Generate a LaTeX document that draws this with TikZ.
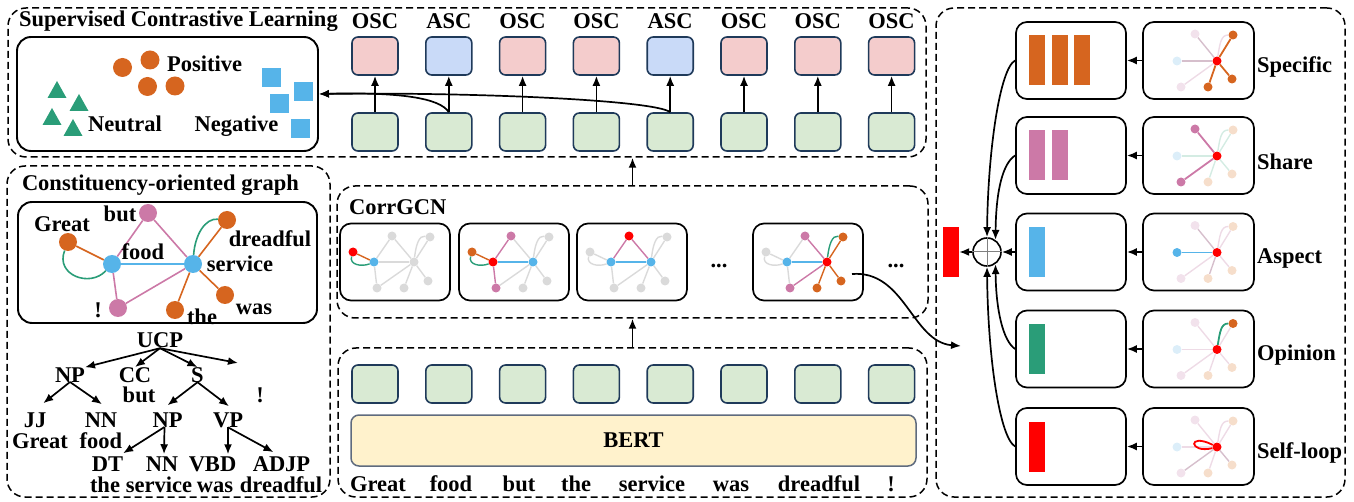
\documentclass[tikz,border=0pt]{standalone}
\usepackage{fontspec}
\setmainfont{Liberation Serif}
\usetikzlibrary{arrows.meta}
\definecolor{cOr}{HTML}{D6651F}
\definecolor{cPk}{HTML}{CC79A7}
\definecolor{cBl}{HTML}{56B4E9}
\definecolor{cGn}{HTML}{2A9D78}
\definecolor{cRd}{HTML}{FF0000}
\definecolor{cGy}{HTML}{DADADA}
\definecolor{fPk}{HTML}{F4CCCC}
\definecolor{fBl}{HTML}{C9DAF8}
\definecolor{fGn}{HTML}{D9EAD3}
\definecolor{fYl}{HTML}{FFF2CC}
\definecolor{bNv}{HTML}{1F3A5A}
\definecolor{bGy}{HTML}{5F6B7E}
\definecolor{pBl}{HTML}{DCEEF9}
\definecolor{pPk}{HTML}{F2E2EC}
\definecolor{pOr}{HTML}{F6DECB}
\definecolor{pEd}{HTML}{EEDBE6}
\definecolor{pMv}{HTML}{D6BFCC}
\definecolor{pGe}{HTML}{D4ECE3}
\tikzset{
 dbox/.style={draw, line width=1.5pt, dash pattern=on 7pt off 4pt, rounded corners=18pt, inner sep=0},
 sbox/.style={draw, line width=1.9pt, rounded corners=14pt, inner sep=0},
 gbox/.style={draw, line width=1.7pt, rounded corners=11pt, inner sep=0, minimum width=110pt, minimum height=77pt},
 cell/.style={draw=bNv, line width=1.6pt, rounded corners=6pt, minimum width=46pt, minimum height=38pt, inner sep=0},
 arr/.style={-{Latex[length=10pt,width=8pt]}, line width=1.7pt},
 txt/.style={inner sep=0, outer sep=0},
 bn/.style={circle, inner sep=0, minimum size=18pt},
 be/.style={line width=1.6pt},
 gn/.style={circle, inner sep=0, minimum size=9pt, fill=cGy},
 ge/.style={line width=1.4pt, draw=cGy},
 sn/.style={circle, inner sep=0, minimum size=9pt},
 se/.style={line width=1.4pt, draw=pEd},
 bar/.style={inner sep=0, minimum width=16pt, minimum height=50pt},
 nG/.style={}, nF/.style={}, nB/.style={}, nD/.style={}, nS/.style={}, nX/.style={}, nT/.style={}, nW/.style={},
 eGF/.style={}, eGFc/.style={}, eFB/.style={}, eBS/.style={}, eFS/.style={}, eFX/.style={}, eXS/.style={}, eSD/.style={}, eSDc/.style={}, eST/.style={}, eSW/.style={},
 sC/.style={fill=cRd}, sF/.style={fill=pBl}, sB/.style={fill=pPk}, sD/.style={fill=pOr}, sX/.style={fill=pPk}, sT/.style={fill=pOr}, sW/.style={fill=pOr},
 fF/.style={}, fB/.style={}, fD/.style={}, fDc/.style={}, fX/.style={}, fT/.style={}, fW/.style={},
}
\newcommand\corrgraph[1]{%
 \node[gn,nG] (#1G) at (13,29) {};
 \node[gn,nF] (#1F) at (34,39) {};
 \node[gn,nB] (#1B) at (52,13) {};
 \node[gn,nD] (#1D) at (90,14) {};
 \node[gn,nS] (#1S) at (74,39) {};
 \node[gn,nX] (#1X) at (37,65) {};
 \node[gn,nT] (#1T) at (64,65) {};
 \node[gn,nW] (#1W) at (88,58) {};
 \draw[ge,eGF] (#1G) -- (#1F);
 \draw[ge,eGFc] (#1G) .. controls +(-4,13) and +(-12,5) .. (#1F);
 \draw[ge,eFB] (#1F) -- (#1B);
 \draw[ge,eBS] (#1B) -- (#1S);
 \draw[ge,eFX] (#1F) -- (#1X);
 \draw[ge,eXS] (#1X) -- (#1S);
 \draw[ge,eSD] (#1S) -- (#1D);
 \draw[ge,eSDc] (#1S) .. controls +(2,-17) and +(-11,-2) .. (#1D);
 \draw[ge,eST] (#1S) -- (#1T);
 \draw[ge,eSW] (#1S) -- (#1W);
 \draw[ge,eFS] (#1F) -- (#1S);
}
\newcommand\stargraph[1]{%
 \node[sn,sC] (#1C) at (74,39) {};
 \node[sn,sF] (#1F) at (34,39) {};
 \node[sn,sB] (#1B) at (52,12) {};
 \node[sn,sD] (#1D) at (90,13) {};
 \node[sn,sX] (#1X) at (38,65) {};
 \node[sn,sT] (#1T) at (65,65) {};
 \node[sn,sW] (#1W) at (89,57) {};
 \draw[se,fDc] (#1C) .. controls +(3,-18) and +(-12,0) .. (#1D);
 \draw[se,fB] (#1C) -- (#1B);
 \draw[se,fX] (#1C) -- (#1X);
 \draw[se,fT] (#1C) -- (#1T);
 \draw[se,fW] (#1C) -- (#1W);
 \draw[se,fD] (#1C) -- (#1D);
 \draw[se,fF] (#1C) -- (#1F);
}
\begin{document}
\begin{tikzpicture}[x=1pt,y=-1pt,font=\fontsize{22.5}{26}\selectfont\bfseries]
\useasboundingbox (0,0) rectangle (1354,502);

% ---------- dashed frames
\node[dbox, minimum width=918pt, minimum height=149pt] (scl) at (467,82.5) {};
\node[dbox, minimum width=323pt, minimum height=331pt] (cons) at (168.5,331.5) {};
\node[dbox, minimum width=591pt, minimum height=132pt] (corr) at (632.5,252) {};
\node[dbox, minimum width=589pt, minimum height=149pt] (bertbox) at (632.5,422.5) {};
\node[dbox, minimum width=409pt, minimum height=489pt] (right) at (1140.5,252.5) {};

% ---------- supervised contrastive learning
\node[txt, anchor=west] (sclt) at (19,21) {Supervised Contrastive Learning};
\node[sbox, minimum width=301pt, minimum height=114pt] (sclin) at (167.5,94) {};
\foreach \n/\x/\y in {c1/122.5/67.5, c2/150/60, c3/147.5/86.5, c4/175/86}
  \node[circle, fill=cOr, inner sep=0, minimum size=19pt] (\n) at (\x,\y) {};
\foreach \n/\x/\y in {q1/271.5/77.5, q2/303.5/91.5, q3/279.5/104, q4/300.5/128.5}
  \node[fill=cBl, inner sep=0, minimum size=19pt] (\n) at (\x,\y) {};
\foreach \x/\y [count=\k] in {57/90, 79/103, 52/117, 73/128}
  \draw[fill=cGn, draw=none] (\x-9.5,\y+8) -- (\x+9.5,\y+8) -- (\x,\y-9) -- cycle;
\node[txt, anchor=base] (pos) at (204.5,72) {Positive};
\node[txt, anchor=base] (neu) at (125,132) {Neutral};
\node[txt, anchor=base] (neg) at (236.5,132) {Negative};

\foreach \i/\lab/\col in {0/OSC/fPk,1/ASC/fBl,2/OSC/fPk,3/OSC/fPk,4/ASC/fBl,5/OSC/fPk,6/OSC/fPk,7/OSC/fPk}{
  \node[txt] (l\i) at ({375+73.8*\i},21) {\lab};
  \node[cell, fill=\col] (p\i) at ({375+73.8*\i},56) {};
  \node[cell, fill=fGn] (g\i) at ({375+73.8*\i},132) {};
  \draw[arr] (g\i.north) -- (p\i.south);
}
\draw[arr] (g1.north) .. controls (440,98) and (400,92) .. (sclin.east);
\draw[arr] (g4.north) .. controls (655,100) and (470,92) .. (sclin.east);

% ---------- constituency-oriented graph
\node[txt, anchor=west] (const) at (22,185) {Constituency-oriented graph};
\node[sbox, minimum width=299pt, minimum height=121pt] (consin) at (167.5,262.5) {};
\node[bn, fill=cOr] (kG) at (68,242) {};
\node[bn, fill=cPk] (kB) at (148,213) {};
\node[bn, fill=cOr] (kD) at (227,220) {};
\node[bn, fill=cBl] (kF) at (112,264) {};
\node[bn, fill=cBl] (kS) at (193,264) {};
\node[bn, fill=cPk] (kX) at (118,308) {};
\node[bn, fill=cOr] (kT) at (175,310) {};
\node[bn, fill=cOr] (kW) at (225,295) {};
\draw[be, cOr] (kG) -- (kF);
\draw[be, cGn] (kG) .. controls (55,275) and (90,288) .. (kF);
\draw[be, cPk] (kF) -- (kB);
\draw[be, cPk] (kB) -- (kS);
\draw[be, cPk] (kF) -- (kX);
\draw[be, cPk] (kX) -- (kS);
\draw[be, cBl] (kF) -- (kS);
\draw[be, cOr] (kS) -- (kD);
\draw[be, cGn] (kS) .. controls (195,235) and (205,218) .. (kD);
\draw[be, cOr] (kS) -- (kT);
\draw[be, cOr] (kS) -- (kW);
\node[txt, anchor=base] (kGl) at (62,232) {Great};
\node[txt, anchor=base] (kBl) at (120,222) {but};
\node[txt, anchor=base] (kFl) at (143,260) {food};
\node[txt, anchor=base] (kDl) at (270,247) {dreadful};
\node[txt, anchor=base] (kSl) at (240,272) {service};
\node[txt, anchor=base] (kXl) at (98,318) {!};
\node[txt, anchor=base] (kTl) at (202,325) {the};
\node[txt, anchor=base] (kWl) at (254,315) {was};

% tree
\node[txt, anchor=base] (tUCP) at (160,348) {UCP};
\node[txt, anchor=base] (tNP) at (70,382) {NP};
\node[txt, anchor=base] (tCC) at (135,382) {CC};
\node[txt, anchor=base] (tS) at (197.5,382) {S};
\node[txt, anchor=base] (tbut) at (139,402) {but};
\node[txt, anchor=base] (texc) at (260,402) {!};
\node[txt, anchor=base] (tJJ) at (35,427) {JJ};
\node[txt, anchor=base] (tNN) at (101,427) {NN};
\node[txt, anchor=base] (tNPb) at (167.5,427) {NP};
\node[txt, anchor=base] (tVP) at (228,427) {VP};
\node[txt, anchor=base] (wGreat) at (40,448) {Great};
\node[txt, anchor=base] (wfood) at (101,448) {food};
\node[txt, anchor=base] (tDT) at (107.5,471) {DT};
\node[txt, anchor=base] (tNNb) at (162,471) {NN};
\node[txt, anchor=base] (tVBD) at (212.5,471) {VBD};
\node[txt, anchor=base] (tADJP) at (281.5,471) {ADJP};
\node[txt, anchor=base] (wthe) at (105,492) {the};
\node[txt, anchor=base] (wserv) at (159,492) {service};
\node[txt, anchor=base] (wwas) at (215,492) {was};
\node[txt, anchor=base] (wdread) at (281,492) {dreadful};
\coordinate (tEx) at (238,363);
\draw[arr] (tUCP.south) -- (tNP.north east);
\draw[arr] (tUCP.south) -- (tCC.north);
\draw[arr] (tUCP.south) -- (tS.north);
\draw[arr] (tUCP.south) -- (tEx);
\draw[arr] (tNP.south) -- ([shift={(-3,-9)}]tJJ.north east);
\draw[arr] (tNP.south) -- ([shift={(1,-8)}]tNN.north);
\draw[arr] (tS.south) -- ([shift={(0,-7)}]tNPb.north);
\draw[arr] (tS.south) -- ([shift={(1,-6)}]tVP.north);
\draw[arr] ([shift={(-3,0)}]tNPb.south) -- ([shift={(0,-3)}]tDT.north east);
\draw[arr] ([shift={(-3,0)}]tNPb.south) -- ([shift={(2,-2)}]tNNb.north);
\draw[arr] (tVP.south) -- ([shift={(0,-2)}]tVBD.north -| tVP.south);
\draw[arr] (tVP.south) -- ([shift={(-8,-4)}]tADJP.north);

% ---------- CorrGCN
\node[txt, anchor=west] (corrt) at (349,207) {CorrGCN};
\node[gbox] (gb1) at (395,262) {};
\node[gbox] (gb2) at (514,262) {};
\node[gbox] (gb3) at (632,262) {};
\node[gbox] (gb4) at (808,262) {};
\node[txt] (dots1) at (719,266) {...};
\node[txt] (dots2) at (896,266) {...};
\begin{scope}[shift={(340,223)}, nG/.style={fill=cRd}, nF/.style={fill=cBl},
  eGF/.style={draw=cOr}, eGFc/.style={draw=cGn}]
 \corrgraph{a}
\end{scope}
\begin{scope}[shift={(459,223)}, nG/.style={fill=cOr}, nF/.style={fill=cRd}, nB/.style={fill=cPk},
  nS/.style={fill=cBl}, nX/.style={fill=cPk},
  eGF/.style={draw=cOr}, eGFc/.style={draw=cGn}, eFB/.style={draw=cPk}, eFX/.style={draw=cPk}, eFS/.style={draw=cBl}]
 \corrgraph{b}
\end{scope}
\begin{scope}[shift={(577,223)}, nB/.style={fill=cRd}, nF/.style={fill=cBl}, nS/.style={fill=cBl},
  eFB/.style={draw=cPk}, eBS/.style={draw=cPk}, eFS/.style={draw=cBl}]
 \corrgraph{c}
\end{scope}
\begin{scope}[shift={(753,223)}, nS/.style={fill=cRd}, nF/.style={fill=cBl}, nB/.style={fill=cPk},
  nX/.style={fill=cPk}, nD/.style={fill=cOr}, nT/.style={fill=cOr}, nW/.style={fill=cOr},
  eFS/.style={draw=cBl}, eBS/.style={draw=cPk}, eXS/.style={draw=cPk}, eSD/.style={draw=cOr},
  eSDc/.style={draw=cGn}, eST/.style={draw=cOr}, eSW/.style={draw=cOr}]
 \corrgraph{d}
\end{scope}

% ---------- BERT
\foreach \i in {0,...,7}
  \node[cell, fill=fGn] (e\i) at ({375+73.8*\i},384) {};
\node[draw=bGy, fill=fYl, line width=1.5pt, rounded corners=8pt, minimum width=565pt, minimum height=51pt, inner sep=0] (bert) at (633.5,440.5) {BERT};
\foreach \w/\x [count=\k] in {Great/378, food/451, but/519, the/576, service/652, was/731, dreadful/819, !/891}
  \node[txt, anchor=base] (w\k) at (\x,491) {\w};

\draw[arr] (bertbox.north) -- (corr.south);
\draw[arr] (corr.north) -- (corr.north |- scl.south);

% ---------- right panel
\foreach \k/\y/\lab in {1/60.5/Specific, 2/155.5/Share, 3/252/Aspect, 4/349/Opinion, 5/446.5/Self-loop}{
  \node[gbox] (L\k) at (1071,\y) {};
  \node[gbox, minimum width=111pt] (R\k) at (1198.5,\y) {};
  \draw[arr] (R\k.west) -- (L\k.east);
  \node[txt, anchor=west] (lab\k) at (1257,\y+6) {\lab};
}
\node[bar, fill=cOr] (b11) at (1037,60.5) {};
\node[bar, fill=cOr] (b12) at (1060,60.5) {};
\node[bar, fill=cOr] (b13) at (1082,60.5) {};
\node[bar, fill=cPk] (b21) at (1037,155.5) {};
\node[bar, fill=cPk] (b22) at (1060,155.5) {};
\node[bar, fill=cBl] (b31) at (1037,252) {};
\node[bar, fill=cGn] (b41) at (1037,349) {};
\node[bar, fill=cRd] (b51) at (1037,446.5) {};

\begin{scope}[shift={(1143,22)}, sD/.style={fill=cOr}, sT/.style={fill=cOr}, sW/.style={fill=cOr},
  fD/.style={draw=cOr, line width=1.8pt}, fT/.style={draw=cOr, line width=1.8pt}, fW/.style={draw=cOr, line width=1.8pt},
  fF/.style={draw=pMv}, fB/.style={draw=pMv}]
 \stargraph{r1}
\end{scope}
\begin{scope}[shift={(1143,117)}, sB/.style={fill=cPk}, sX/.style={fill=cPk},
  fB/.style={draw=cPk, line width=1.8pt}, fX/.style={draw=cPk, line width=1.8pt},
  fF/.style={draw=pGe}, fD/.style={draw=pGe}, fDc/.style={draw=pGe}, fT/.style={draw=pGe}, fW/.style={draw=pGe}]
 \stargraph{r2}
\end{scope}
\begin{scope}[shift={(1143,213.5)}, sF/.style={fill=cBl},
  fF/.style={draw=cBl, line width=1.8pt}, fB/.style={draw=pMv}, fT/.style={draw=pMv}]
 \stargraph{r3}
\end{scope}
\begin{scope}[shift={(1143,310.5)}, sD/.style={fill=cOr},
  fDc/.style={draw=cGn, line width=1.8pt}]
 \stargraph{r4}
\end{scope}
\begin{scope}[shift={(1143,408)}, fX/.style={draw=pMv}, fW/.style={draw=pMv}]
 \stargraph{r5}
 \draw[cRd, line width=1.8pt] (r5C) .. controls +(-30,-15) and +(-28,7) .. (r5C);
\end{scope}

\node[circle, draw, line width=1.6pt, minimum size=28pt, inner sep=0] (oplus) at (987,252) {};
\draw[gray, line width=1pt] (oplus.north) -- (oplus.south) (oplus.west) -- (oplus.east);
\node[bar, fill=cRd] (outbar) at (951,252) {};
\draw[arr] (oplus.west) -- (outbar.east);
\draw[arr] (L3.west) -- (oplus.east);
\draw[arr] (L1.west) .. controls (1000,68) and (988,150) .. (oplus.north);
\draw[arr] (L2.west) .. controls (1003,163) and (996,190) .. (oplus.55);
\draw[arr] (L4.west) .. controls (1003,341) and (996,310) .. (oplus.-55);
\draw[arr] (L5.west) .. controls (1000,438) and (988,360) .. (oplus.south);

\coordinate (gsrc) at (852,274);
\coordinate (gin) at (961,346);
\draw[arr] (gsrc) .. controls (905,270) and (912,342) .. (gin);
\end{tikzpicture}
\end{document}
